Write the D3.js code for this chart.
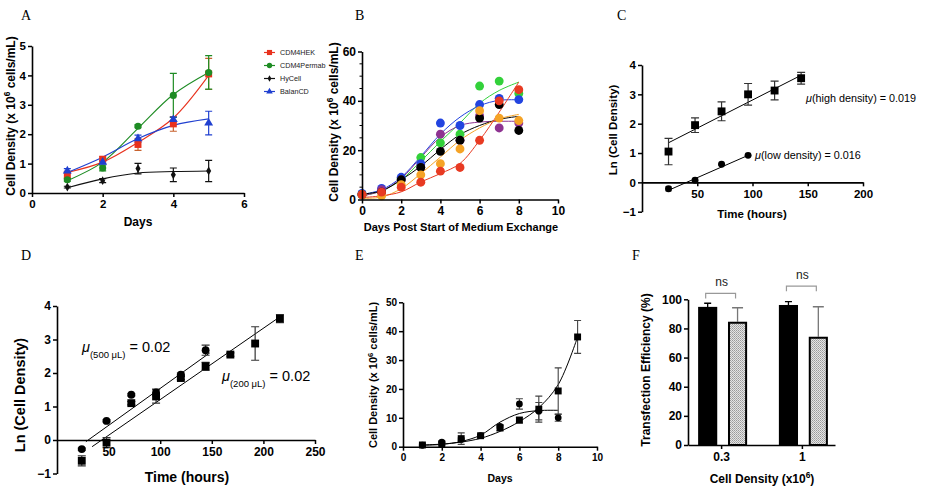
<!DOCTYPE html>
<html><head><meta charset="utf-8">
<script src="https://cdn.jsdelivr.net/npm/d3@7"></script>
<style>body{margin:0;background:#fff} svg{display:block}</style>
</head><body><svg id="c" width="936" height="494"></svg>
<script>
// ---------------- DATA ----------------
// Panel A
const daysA = [1, 2, 3, 4, 5];
const hekMean = [0.62, 1.15, 1.65, 2.35, 4.05];
const hekErr = [0.12, 0.08, 0.2, 0.25, 0.53];
const hekFit = [0.7, 1.05, 1.72, 2.55, 4.0];
const permabMean = [0.45, 0.85, 2.27, 3.32, 4.1];
const permabErr = [0.05, 0.1, 0.05, 0.75, 0.57];
const permabFit = [0.42, 1.05, 2.2, 3.35, 4.1];
const hycellMean = [0.2, 0.42, 0.83, 0.62, 0.75];
const hycellErr = [0.03, 0.07, 0.18, 0.23, 0.36];
const hycellFit = [0.18, 0.48, 0.68, 0.73, 0.75];
const balanMean = [0.75, 1.05, 1.85, 2.5, 2.38];
const balanErr = [0.08, 0.05, 0.12, 0.08, 0.4];
const balanFit = [0.7, 1.22, 1.85, 2.3, 2.52];
const legendA = ["CDM4HEK", "CDM4Permab", "HyCell", "BalanCD"];

// Panel B
const daysB = [0, 1, 2, 3, 4, 5, 6, 7, 8];
const bGreen = [2, 3.5, 8.5, 17, 23, 26.5, 46, 48, 43];
const bBlue = [2.5, 4.5, 9, 14.5, 31, 30, 38.5, 41, 40.5];
const bPurple = [2, 4, 8, 13, 26.5, 24, 34, 29, 31];
const bBlack = [2, 3, 8, 13, 19.5, 24, 33, 38.5, 28];
const bOrange = [2, 1.5, 6, 10, 14.5, 20.5, 36, 33, 32];
const bRed = [2, 3, 5, 7, 11.5, 13, 24, 40, 44.5];
const fitGreen = [1.5, 3.5, 8, 15.5, 23.5, 31, 39, 44.2, 47.6];
const fitBlue = [2, 4, 9, 17.5, 26.5, 33.4, 38, 40.2, 40.4];
const fitPurple = [1.5, 3.5, 8.5, 17, 25.3, 30, 31.4, 31.7, 31.7];
const fitBlack = [2.2, 3.5, 8, 13.5, 20.3, 26.3, 30, 32.5, 33.7];
const fitOrange = [0.5, 1, 4.4, 10.5, 17.2, 24, 29, 32.7, 34.5];
const fitRed = [0.8, 1.5, 3.1, 7.1, 10.5, 14.6, 24, 35.4, 47.6];

// Panel C
const timesHigh = [24, 48, 72, 96, 120, 144];
const highMean = [1.05, 1.95, 2.42, 3.0, 3.13, 3.55];
const highErr = [0.45, 0.25, 0.32, 0.37, 0.32, 0.2];
const highFitT = [24, 144];
const highFitV = [1.35, 3.65];
const timesLow = [24, 48, 72, 96];
const lowMean = [-0.22, 0.07, 0.62, 0.92];
const lowErr = [0.07, 0.03, 0.03, 0.02];
const lowFitT = [24, 96];
const lowFitV = [-0.27, 0.92];

// Panel D
const times500 = [24, 48, 72, 96, 120, 144];
const mean500 = [-0.27, 0.57, 1.35, 1.42, 1.95, 2.68];
const err500 = [0.03, 0.03, 0.03, 0.1, 0.05, 0.15];
const fit500T = [28, 148];
const fit500V = [-0.05, 2.6];
const times200 = [24, 48, 72, 96, 120, 144, 168, 192, 216];
const mean200 = [-0.62, -0.08, 1.1, 1.3, 1.85, 2.2, 2.55, 2.88, 3.62];
const err200 = [0.15, 0.15, 0.05, 0.2, 0.05, 0.12, 0.05, 0.5, 0.12];
const fit200T = [34, 218];
const fit200V = [-0.2, 3.72];

// Panel E
const daysSq = [1, 2, 3, 4, 5, 6, 7, 8, 9];
const sqMean = [0.6, 1.0, 2.8, 3.8, 6.5, 9.2, 13, 19.3, 38];
const sqErr = [0.3, 0.5, 2.0, 0.5, 1.0, 1.0, 4.5, 8, 5.7];
const sqFit = [0.6, 0.9, 1.6, 2.9, 5.3, 8.7, 13.5, 21.5, 38];
const daysCi = [1, 2, 3, 4, 5, 6, 7, 8];
const ciMean = [0.5, 1.6, 2.5, 3.8, 7, 14.8, 12.3, 10];
const ciErr = [0.2, 0.3, 0.5, 0.3, 0.5, 1.8, 3, 1.2];
const ciFit = [0.5, 0.8, 1.8, 4, 8.5, 11.5, 12.5, 12.6];

// Panel F
const groupsF = ["0.3", "1"];
const solidVals = [94.8, 96.1];
const solidErr = [2.5, 2.3];
const dotVals = [84.6, 74.3];
const dotErr = [9.6, 20.6];
const bracketVals = [104, 109];

// ---------------- HELPERS ----------------
const svg = d3.select("#c");
const SANS = "'Liberation Sans', Arial, Helvetica, sans-serif";
const SERIF = "'Liberation Serif', 'Times New Roman', serif";

function styleAxis(g, fs) {
  g.select(".domain").attr("stroke", "#000").attr("stroke-width", 1.6);
  g.selectAll(".tick line").attr("stroke", "#000").attr("stroke-width", 1.5);
  g.selectAll(".tick text").attr("fill", "#000").attr("font-family", SANS)
    .attr("font-weight", "bold").attr("font-size", fs);
}
function yAxis(scale, x, ticks, fs, fmt) {
  const g = svg.append("g").attr("transform", `translate(${x},0)`)
    .call(d3.axisLeft(scale).tickValues(ticks).tickSize(4).tickSizeOuter(0).tickPadding(2)
      .tickFormat(fmt || d3.format("d")));
  styleAxis(g, fs); return g;
}
function xAxis(scale, y, ticks, fs, fmt, dom) {
  const ax = d3.axisBottom(scale).tickValues(ticks).tickSize(4).tickSizeOuter(0).tickPadding(3)
    .tickFormat(fmt || d3.format("d"));
  const g = svg.append("g").attr("transform", `translate(0,${y})`).call(ax);
  styleAxis(g, fs); return g;
}
function minorY(scale, x, vals) {
  svg.append("g").selectAll("line").data(vals).join("line")
    .attr("x1", x - 2.5).attr("x2", x).attr("y1", d => scale(d)).attr("y2", d => scale(d))
    .attr("stroke", "#000").attr("stroke-width", 1);
}
function errBars(xs, ys, es, xS, yS, color, cap, sw) {
  svg.append("g").selectAll("path").data(xs.map((x, i) => [x, ys[i], es[i]])).join("path")
    .attr("d", d => {
      const px = xS(d[0]), y1 = yS(d[1] - d[2]), y2 = yS(d[1] + d[2]);
      return `M${px},${y1}V${y2}M${px - cap},${y1}h${2 * cap}M${px - cap},${y2}h${2 * cap}`;
    })
    .attr("stroke", color).attr("stroke-width", sw || 1.2).attr("fill", "none");
}
function markers(xs, ys, xS, yS, type, size, color) {
  svg.append("g").selectAll("path").data(xs.map((x, i) => [x, ys[i]])).join("path")
    .attr("transform", d => `translate(${xS(d[0])},${yS(d[1])})`)
    .attr("d", d3.symbol(type, size)).attr("fill", color);
}
function curve(xs, ys, xS, yS, color, sw, cv) {
  svg.append("path").datum(xs.map((x, i) => [x, ys[i]]))
    .attr("d", d3.line().x(d => xS(d[0])).y(d => yS(d[1])).curve(cv || d3.curveMonotoneX))
    .attr("fill", "none").attr("stroke", color).attr("stroke-width", sw || 1);
}
function title(x, y, parts, fs, rot) {
  const t = svg.append("text")
    .attr("transform", `translate(${x},${y})` + (rot ? " rotate(-90)" : ""))
    .attr("text-anchor", "middle").attr("font-family", SANS).attr("font-weight", "bold")
    .attr("font-size", fs).attr("fill", "#000");
  parts.forEach(p => {
    if (typeof p === "string") t.append("tspan").text(p);
    else t.append("tspan").attr("font-size", fs * 0.7).attr("baseline-shift", "super").text(p.sup);
  });
  return t;
}
function letter(x, y, s) {
  svg.append("text").attr("x", x).attr("y", y).attr("font-family", SERIF)
    .attr("font-size", 14).attr("fill", "#000").text(s);
}
function muText(x, y, sub, rest, fs, subfs) {
  const t = svg.append("text").attr("x", x).attr("y", y).attr("font-family", SANS)
    .attr("font-size", fs).attr("fill", "#000");
  t.append("tspan").attr("font-style", "italic").text("\u03bc");
  if (sub) t.append("tspan").attr("font-size", subfs).attr("baseline-shift", "sub").text(sub);
  t.append("tspan").text(rest);
}
const densTitle = ["Cell Density (x 10", { sup: "6" }, " cells/mL)"];

// ---------------- PANEL A ----------------
{
  const x = d3.scaleLinear().domain([0, 6]).range([32, 244]);
  const y = d3.scaleLinear().domain([0, 5]).range([193, 46]);
  const series = [
    { m: hekMean, e: hekErr, f: hekFit, c: "#e8321e", ec: "#c8622e", s: d3.symbolSquare, sz: 48 },
    { m: permabMean, e: permabErr, f: permabFit, c: "#1e8c24", ec: "#1e8c24", s: d3.symbolCircle, sz: 40 },
    { m: hycellMean, e: hycellErr, f: hycellFit, c: "#111", ec: "#111", s: d3.symbolDiamond, sz: 22 },
    { m: balanMean, e: balanErr, f: balanFit, c: "#2040d0", ec: "#2040d0", s: d3.symbolTriangle, sz: 34 }
  ];
  series.forEach(s => curve(daysA, s.f, x, y, s.c, 1.1, d3.curveCatmullRom));
  series.forEach(s => errBars(daysA, s.m, s.e, x, y, s.ec, 3.5, 1.2));
  series.forEach(s => markers(daysA, s.m, x, y, s.s, s.sz, s.c));
  yAxis(y, 32, [0, 1, 2, 3, 4, 5], 11.5);
  xAxis(x, 193, [0, 2, 4, 6], 11.5);
  title(15, 116, densTitle, 12, true);
  title(138, 226, ["Days"], 12, false);
  letter(21, 20, "A");
  // legend
  const lg = svg.append("g");
  series.forEach((s, i) => {
    const yy = [52.5, 65.5, 78.5, 91.5][i];
    lg.append("line").attr("x1", 264).attr("x2", 275).attr("y1", yy).attr("y2", yy)
      .attr("stroke", s.c).attr("stroke-width", 1.2);
    lg.append("path").attr("transform", `translate(269.5,${yy})`)
      .attr("d", d3.symbol(s.s, s.sz * 0.55)).attr("fill", s.c);
    lg.append("text").attr("x", 280).attr("y", yy + 2.6).attr("font-family", SANS)
      .attr("font-size", 7.2).attr("fill", "#222").text(legendA[i]);
  });
}

// ---------------- PANEL B ----------------
{
  const x = d3.scaleLinear().domain([0, 10]).range([362, 558]);
  const y = d3.scaleLinear().domain([0, 60]).range([199.5, 51.5]);
  const series = [
    { v: bGreen, f: fitGreen, c: "#33d13a" },
    { v: bBlue, f: fitBlue, c: "#2244e0" },
    { v: bPurple, f: fitPurple, c: "#8e3391" },
    { v: bBlack, f: fitBlack, c: "#000000" },
    { v: bOrange, f: fitOrange, c: "#f5a326" },
    { v: bRed, f: fitRed, c: "#e83a22" }
  ];
  series.forEach(s => curve(daysB, s.f, x, y, s.c, 1, d3.curveCatmullRom));
  series.forEach(s => markers(daysB, s.v, x, y, d3.symbolCircle, 62, s.c));
  minorY(y, 362, [5, 10, 15, 25, 30, 35, 45, 50, 55]);
  yAxis(y, 362, [0, 20, 40, 60], 12);
  xAxis(x, 199.5, [0, 2, 4, 6, 8, 10], 12);
  title(338, 122, densTitle, 12, true);
  title(461, 231, ["Days Post Start of Medium Exchange"], 11, false);
  letter(355, 20, "B");
}

// ---------------- PANEL C ----------------
{
  const x = d3.scaleLinear().domain([0, 200]).range([642, 863]);
  const y = d3.scaleLinear().domain([-1, 4]).range([211.7, 65]);
  curve(highFitT, highFitV, x, y, "#000", 1, d3.curveLinear);
  curve(lowFitT, lowFitV, x, y, "#000", 1, d3.curveLinear);
  errBars(timesHigh, highMean, highErr, x, y, "#333", 4, 1.2);
  errBars(timesLow, lowMean, lowErr, x, y, "#333", 3, 1.2);
  markers(timesHigh, highMean, x, y, d3.symbolSquare, 62, "#000");
  markers(timesLow, lowMean, x, y, d3.symbolCircle, 38, "#000");
  yAxis(y, 642, [-1, 0, 1, 2, 3, 4], 11.5);
  xAxis(x, y(0), [50, 100, 150, 200], 11.5);
  title(617, 130, ["Ln (Cell Density)"], 11.5, true);
  title(752, 218, ["Time (hours)"], 11.5, false);
  muText(806, 102, null, "(high density) = 0.019", 10.8);
  muText(755, 159, null, "(low density) = 0.016", 10.8);
  letter(617, 20, "C");
}

// ---------------- PANEL D ----------------
{
  const x = d3.scaleLinear().domain([0, 250]).range([57, 315]);
  const y = d3.scaleLinear().domain([-1, 4]).range([473.5, 306]);
  curve(fit500T, fit500V, x, y, "#000", 1, d3.curveLinear);
  curve(fit200T, fit200V, x, y, "#000", 1, d3.curveLinear);
  errBars(times500, mean500, err500, x, y, "#333", 4, 1.2);
  errBars(times200, mean200, err200, x, y, "#333", 4, 1.2);
  markers(times200, mean200, x, y, d3.symbolSquare, 62, "#000");
  markers(times500, mean500, x, y, d3.symbolCircle, 48, "#000");
  yAxis(y, 57, [-1, 0, 1, 2, 3, 4], 12);
  xAxis(x, y(0), [50, 100, 150, 200, 250], 12);
  title(25, 395, ["Ln (Cell Density)"], 14.5, true);
  title(187, 482, ["Time (hours)"], 14, false);
  muText(82, 352, "(500 \u03bcL)", " = 0.02", 14.5, 9.5);
  muText(222, 381, "(200 \u03bcL)", " = 0.02", 14.5, 9.5);
  letter(21, 260, "D");
}

// ---------------- PANEL E ----------------
{
  const x = d3.scaleLinear().domain([0, 10]).range([403, 597]);
  const y = d3.scaleLinear().domain([0, 50]).range([446.7, 302.3]);
  curve(daysSq, sqFit, x, y, "#000", 1, d3.curveCatmullRom);
  curve(daysCi, ciFit, x, y, "#000", 1, d3.curveCatmullRom);
  errBars(daysSq, sqMean, sqErr, x, y, "#444", 3.5, 1.1);
  errBars(daysCi, ciMean, ciErr, x, y, "#444", 3.5, 1.1);
  markers(daysSq, sqMean, x, y, d3.symbolSquare, 48, "#000");
  markers(daysCi, ciMean, x, y, d3.symbolCircle, 36, "#000");
  yAxis(y, 403, [0, 10, 20, 30, 40, 50], 10);
  xAxis(x, 446.7, [0, 2, 4, 6, 8, 10], 10);
  title(377, 375, densTitle, 11, true);
  title(500, 482, ["Days"], 10.5, false);
  letter(355, 260, "E");
}

// ---------------- PANEL F ----------------
{
  const defs = svg.append("defs");
  const pat = defs.append("pattern").attr("id", "dots").attr("patternUnits", "userSpaceOnUse")
    .attr("width", 2).attr("height", 2);
  pat.append("rect").attr("width", 2).attr("height", 2).attr("fill", "#e4e4e4");
  pat.append("rect").attr("width", 1).attr("height", 1).attr("fill", "#9a9a9a");
  pat.append("rect").attr("x", 1).attr("y", 1).attr("width", 1).attr("height", 1).attr("fill", "#b0b0b0");

  const x0 = d3.scalePoint().domain(groupsF).range([688, 835]).padding(0.41);
  const x1 = d3.scaleBand().domain(["solid", "dots"]).range([-23, 26]).paddingInner(0.36);
  const y = d3.scaleLinear().domain([0, 100]).range([445, 299.3]);
  const bw = x1.bandwidth();
  groupsF.forEach((g, i) => {
    const cx = x0(g);
    // solid bar
    const sx = cx + x1("solid") + bw / 2;
    svg.append("path").attr("d", `M${sx},${y(solidVals[i])}V${y(solidVals[i] + solidErr[i])}M${sx - 3.5},${y(solidVals[i] + solidErr[i])}h7`)
      .attr("stroke", "#000").attr("stroke-width", 1.3);
    svg.append("rect").attr("x", cx + x1("solid")).attr("y", y(solidVals[i]))
      .attr("width", bw).attr("height", y(0) - y(solidVals[i])).attr("fill", "#000");
    // dotted bar
    const dx = cx + x1("dots") + bw / 2;
    svg.append("path").attr("d", `M${dx},${y(dotVals[i])}V${y(dotVals[i] + dotErr[i])}M${dx - 5.5},${y(dotVals[i] + dotErr[i])}h11`)
      .attr("stroke", "#777").attr("stroke-width", 1.3);
    svg.append("rect").attr("x", cx + x1("dots") + 1).attr("y", y(dotVals[i]) + 1)
      .attr("width", bw - 2).attr("height", y(0) - y(dotVals[i]) - 1)
      .attr("fill", "url(#dots)").attr("stroke", "#000").attr("stroke-width", 2);
    // ns bracket
    const by = y(bracketVals[i]);
    svg.append("path").attr("d", `M${sx - 2},${by + 5}V${by}H${dx - 2}V${by + 5}`)
      .attr("fill", "none").attr("stroke", "#999").attr("stroke-width", 1.2);
    svg.append("text").attr("x", (sx + dx) / 2 - 1).attr("y", by - 7).attr("text-anchor", "middle")
      .attr("font-family", SANS).attr("font-size", 12).attr("fill", "#222").text("ns");
  });
  yAxis(y, 688, [0, 20, 40, 60, 80, 100], 12);
  const gx = svg.append("g").attr("transform", `translate(0,445)`)
    .call(d3.axisBottom(x0).tickSize(4).tickSizeOuter(0).tickPadding(3));
  styleAxis(gx, 12);
  title(650, 370, ["Transfection Efficiency (%)"], 12, true);
  title(762, 483, ["Cell Density (x10", { sup: "6" }, ")"], 12, false);
  letter(632, 260, "F");
}
</script></body></html>
